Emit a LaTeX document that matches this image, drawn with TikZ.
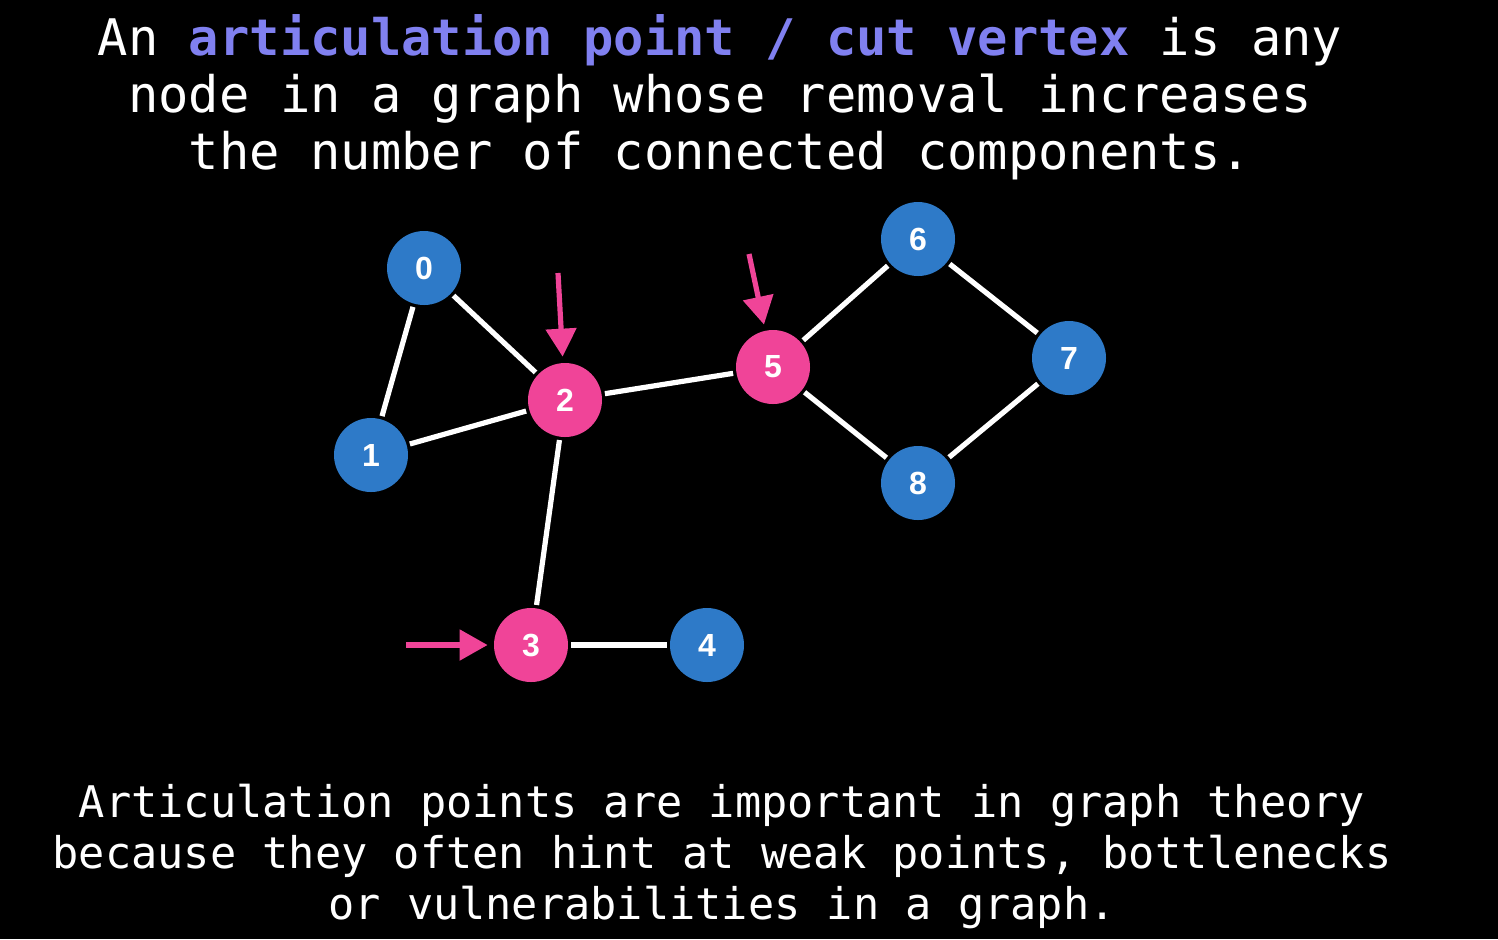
\documentclass[tikz,border=0pt]{standalone}
\usepackage{fontspec}
\setmonofont{DejaVu Sans Mono}
\setsansfont{Liberation Sans}
\usetikzlibrary{arrows.meta}
\definecolor{apblue}{RGB}{46,122,200}
\definecolor{appink}{RGB}{240,68,152}
\definecolor{appurple}{RGB}{128,128,240}
\tikzset{
  vert/.style={circle, fill=apblue, minimum size=37pt, inner sep=0pt, text=white, font=\sffamily\bfseries\fontsize{16}{16}\selectfont},
  cutvert/.style={vert, fill=appink},
  edge/.style={white, line width=2.6pt, shorten >=1.5pt, shorten <=1.5pt},
  pointer/.style={appink, line width=2.6pt, -{Triangle[length=14pt, width=15pt]}, shorten >=3pt}
}
\begin{document}
\begin{tikzpicture}[x=0.5pt, y=-0.5pt]
        \fill[black](0,0) rectangle (1498,939);
        \useasboundingbox (0,0) rectangle (1498,939);
        % text
        \node[text=white, align=center, font=\ttfamily\fontsize{25.2}{28.5}\selectfont] (title) at (720,97)
            {An \textcolor{appurple}{\bfseries articulation point / cut vertex} is any\\
             node in a graph whose removal increases\\
             the number of connected components.};
        \node[text=white, align=center, font=\ttfamily\fontsize{21.8}{25.5}\selectfont] (note) at (722,856)
            {Articulation points are important in graph theory\\
             because they often hint at weak points, bottlenecks\\
             or vulnerabilities in a graph.};
        % graph
        \node[vert] (n0) at (424,268){0};
        \node[vert] (n1) at (371,455){1};
        \node[cutvert] (n2) at (565,400){2};
        \node[cutvert] (n3) at (531,645){3};
        \node[vert] (n4) at (707,645){4};
        \node[cutvert] (n5) at (773,367){5};
        \node[vert] (n6) at (918,239){6};
        \node[vert] (n7) at (1069,358){7};
        \node[vert] (n8) at (918,483){8};
        \draw[edge](n0)--(n1);
        \draw[edge](n0)--(n2);
        \draw[edge](n1)--(n2);
        \draw[edge](n2)--(n5);
        \draw[edge](n2)--(n3);
        \draw[edge](n3)--(n4);
        \draw[edge](n5)--(n6);
        \draw[edge](n6)--(n7);
        \draw[edge](n7)--(n8);
        \draw[edge](n8)--(n5);
        % arrows
        \coordinate (p2) at (558,273);
        \coordinate (p5) at (749,254);
        \coordinate (p3) at (406,645);
        \draw[pointer](p2)--(n2);
        \draw[pointer](p5)--(n5);
        \draw[pointer](p3)--(n3);
    \end{tikzpicture}
\end{document}
